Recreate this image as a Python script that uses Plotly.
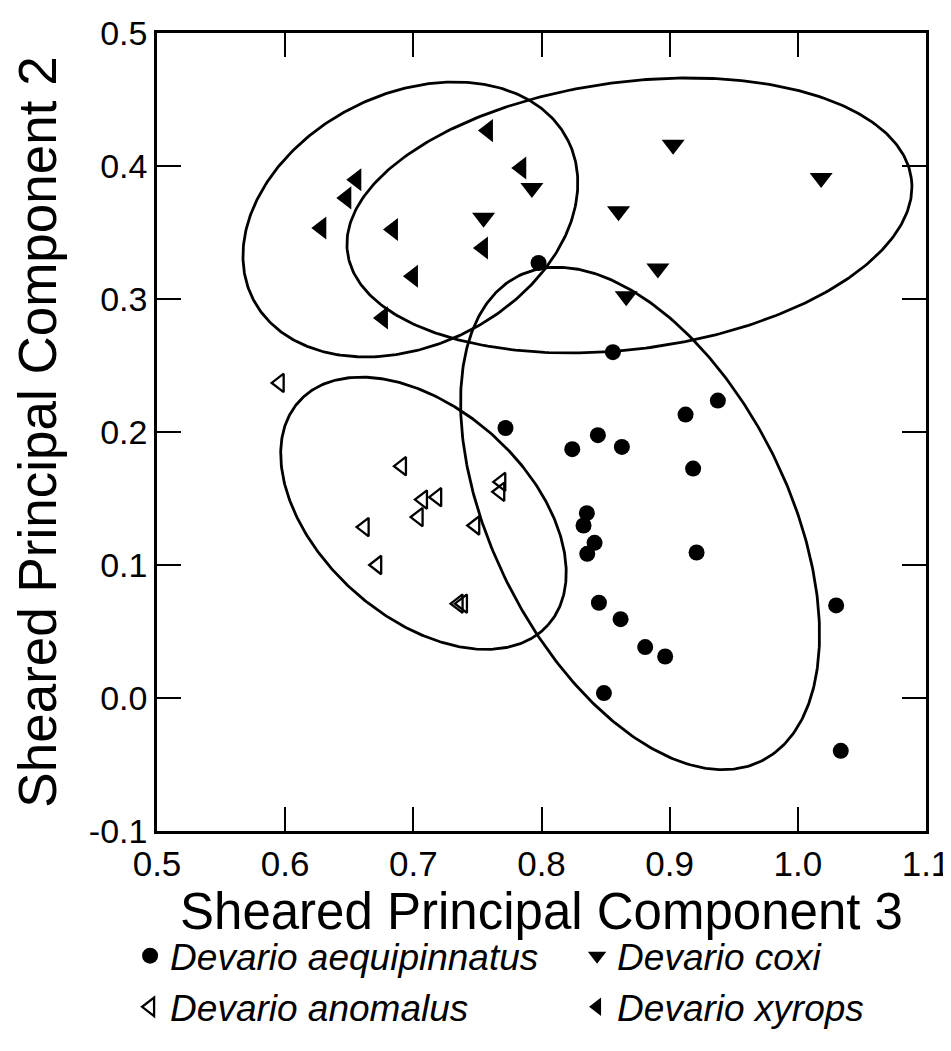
import numpy as np
import plotly.graph_objects as go

# ---------------- data ----------------
aeq_x = [0.7977, 0.8557, 0.9376, 0.9124, 0.7719, 0.8440, 0.8240, 0.8627, 0.9183, 0.8354,
         0.8328, 0.8414, 0.8357, 0.9210, 1.0299, 0.8448, 0.8617, 0.8809, 0.8965, 0.8487, 1.0335]
aeq_y = [0.3271, 0.2600, 0.2236, 0.2131, 0.2030, 0.1976, 0.1871, 0.1888, 0.1725, 0.1390,
         0.1297, 0.1167, 0.1084, 0.1094, 0.0696, 0.0716, 0.0593, 0.0383, 0.0312, 0.0037, -0.0397]

coxi_x = [0.7925, 0.7548, 0.9027, 1.0182, 0.8601, 0.8908, 0.8661]
coxi_y = [0.3835, 0.3610, 0.4160, 0.3910, 0.3660, 0.3229, 0.3021]

anom_x = [0.5957, 0.6911, 0.7686, 0.7678, 0.7075, 0.7186, 0.7041, 0.7483, 0.6620, 0.6718, 0.7353, 0.7387]
anom_y = [0.2369, 0.1743, 0.1625, 0.1550, 0.1492, 0.1510, 0.1360, 0.1297, 0.1285, 0.1000, 0.0709, 0.0709]

xyr_x = [0.7582, 0.7842, 0.6555, 0.6477, 0.6282, 0.6841, 0.7543, 0.6997, 0.6763]
xyr_y = [0.4266, 0.3985, 0.3897, 0.3760, 0.3534, 0.3522, 0.3384, 0.3171, 0.2858]

species = ["Devario aequipinnatus", "Devario coxi", "Devario anomalus", "Devario xyrops"]

# group ellipses: centre and the two semi-axis vectors (data units)
ell_cx = [0.6977, 0.8686, 0.7079, 0.8769]
ell_cy = [0.3598, 0.3628, 0.1389, 0.1350]
ell_ux = [0.1230, 0.2200, 0.0972, -0.0951]
ell_uy = [0.0594, 0.0277, -0.0840, 0.1822]
ell_vx = [-0.0440, -0.0135, 0.0544, -0.1028]
ell_vy = [0.0846, 0.0996, 0.0585, -0.0498]

x_ticks = [0.5, 0.6, 0.7, 0.8, 0.9, 1.0, 1.1]
x_ticktext = ["0.5", "0.6", "0.7", "0.8", "0.9", "1.0", "1.1"]
y_ticks = [-0.1, 0.0, 0.1, 0.2, 0.3, 0.4, 0.5]
y_ticktext = ["-0.1", "0.0", "0.1", "0.2", "0.3", "0.4", "0.5"]

# ---------------- figure ----------------
fig = go.Figure()

t = np.linspace(0, 2 * np.pi, 400)
for cx, cy, ux, uy, vx, vy in zip(ell_cx, ell_cy, ell_ux, ell_uy, ell_vx, ell_vy):
    fig.add_trace(go.Scatter(
        x=cx + ux * np.cos(t) + vx * np.sin(t),
        y=cy + uy * np.cos(t) + vy * np.sin(t),
        mode="lines", line=dict(color="black", width=2.8),
        showlegend=False, hoverinfo="skip"))

fig.add_trace(go.Scatter(x=aeq_x, y=aeq_y, mode="markers", name=species[0],
                         marker=dict(symbol="circle", size=16, color="black", line=dict(width=0))))
fig.add_trace(go.Scatter(x=coxi_x, y=coxi_y, mode="markers", name=species[1],
                         marker=dict(symbol="triangle-down", size=20, color="black", line=dict(width=0))))
fig.add_trace(go.Scatter(x=anom_x, y=anom_y, mode="markers", name=species[2],
                         marker=dict(symbol="triangle-left-open", size=16, color="black",
                                     line=dict(width=2.3, color="black"))))
fig.add_trace(go.Scatter(x=xyr_x, y=xyr_y, mode="markers", name=species[3],
                         marker=dict(symbol="triangle-left", size=20, color="black", line=dict(width=0))))

axis_common = dict(showline=True, linecolor="black", linewidth=2.5, mirror="ticks",
                   ticks="inside", ticklen=24, tickwidth=2.2, tickcolor="black",
                   showgrid=False, zeroline=False)

fig.update_xaxes(range=[0.5, 1.1], tickvals=x_ticks, ticktext=x_ticktext,
                 tickfont=dict(family="Liberation Sans, Arial", size=35, color="black"),
                 title=dict(text="Sheared Principal Component 3",
                            font=dict(family="Liberation Sans, Arial", size=51, color="black"),
                            standoff=5),
                 **axis_common)
fig.update_yaxes(range=[-0.1, 0.5], tickvals=y_ticks, ticktext=y_ticktext,
                 tickfont=dict(family="Liberation Sans, Arial", size=34, color="black"),
                 title=dict(text="Sheared Principal Component 2",
                            font=dict(family="Liberation Sans, Arial", size=53, color="black"),
                            standoff=27),
                 **axis_common)

fig.update_layout(
    width=951, height=1051,
    margin=dict(l=149, r=33, t=25, b=228, autoexpand=False),
    paper_bgcolor="white", plot_bgcolor="white",
    legend=dict(orientation="h", x=-0.035, xanchor="left", y=-0.118, yanchor="top",
                entrywidth=402, entrywidthmode="pixels",
                font=dict(family="Liberation Sans, Arial", size=37,
                          color="black", style="italic"),
                bgcolor="rgba(0,0,0,0)", tracegroupgap=0),
)

fig.write_html("out.html")
